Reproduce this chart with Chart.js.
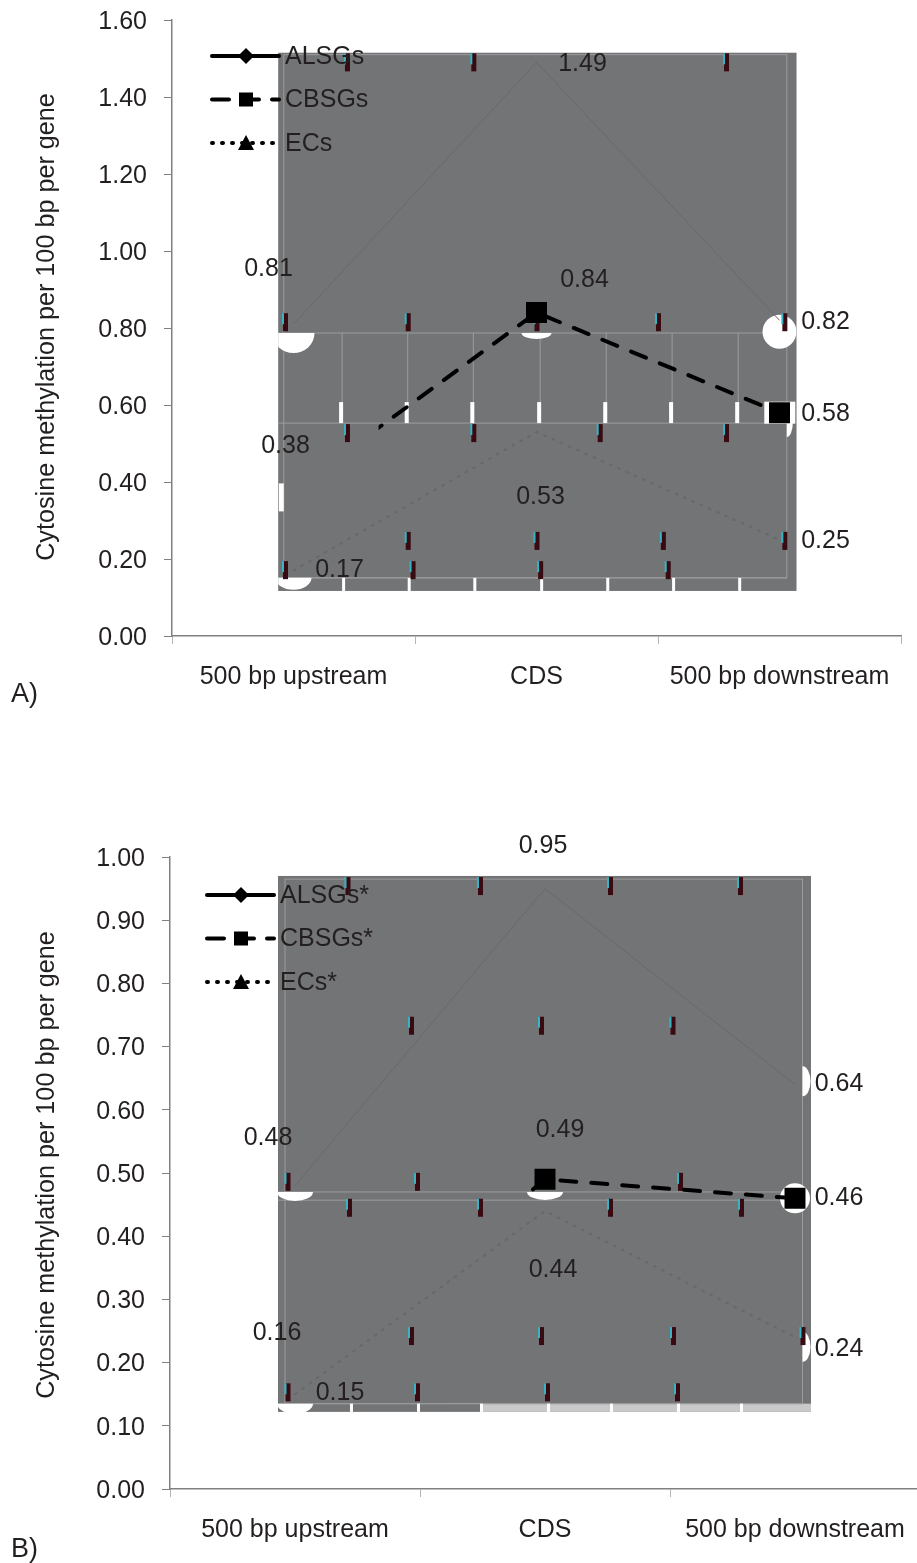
<!DOCTYPE html>
<html>
<head>
<meta charset="utf-8">
<title>Cytosine methylation</title>
<script src="https://cdn.jsdelivr.net/npm/chart.js@4/dist/chart.umd.min.js"></script>
<style>
    html, body { margin: 0; padding: 0; background: #fff; width: 917px; height: 1563px; overflow: hidden; }
    canvas { position: absolute; left: 0; }
    #chart-a { top: -20px; }
    #chart-b { top: 780px; }
    .panel { position: absolute; left: 11px; font: 27px "Liberation Sans", Arial, sans-serif; color: #231f20; line-height: 30px; }
</style>
</head>
<body>
<canvas id="chart-a" width="917" height="740"></canvas>
<canvas id="chart-b" width="936" height="783"></canvas>
<div class="panel" style="top:678px">A)</div>
<div class="panel" style="top:1533px">B)</div>
<script>
const categories = ['500 bp upstream', 'CDS', '500 bp downstream'];
const yTitle = 'Cytosine methylation per 100 bp per gene';

const alsgA = [0.81, 1.49, 0.82];
const cbsgA = [0.38, 0.84, 0.58];
const ecA = [0.17, 0.53, 0.25];

const alsgB = [0.48, 0.95, 0.64];
const cbsgB = [0.16, 0.49, 0.46];
const ecB = [0.15, 0.44, 0.24];

const namesA = ['ALSGs', 'CBSGs', 'ECs'];
const namesB = ['ALSGs*', 'CBSGs*', 'ECs*'];

const FONT = '"Liberation Sans", Arial, sans-serif';
const TEXT = '#231f20';
const AXIS = '#808080';
const PATCH = '#737476';
const THIN = '#9c9c9e';

// where each value label sits relative to its point, same order as the series
const labelOffsetsA = [
    [[-25, -55], [46, 2], [46, 2]],
    [[-8, -44], [48, -32], [46, 1]],
    [[46, 0], [4, 65], [46, 1]]
];
const labelOffsetsB = [
    [[-27, -48], [-2, -42], [44, 0]],
    [[-18, -55], [15, -49], [44, 0]],
    [[45, -1], [8, 59], [44, 12]]
];

// the grey damage over the plot, in category / value coordinates
// blobs: category, value, rx, ry, which part of the ellipse
const damageA = {
    box: [-0.063, 2.07, 1.515, 0.117],
    outline: [-0.04, 2.03, 1.51, 0.151],
    rules: [0.787, 0.553, 0.151],
    columns: [0.2, 0.47, 0.74, 1.015, 1.287, 1.558, 1.83],
    columnSpan: [0.787, 0.553],
    blobs: [
        [0, 0.787, 21, 20, 'down'],
        [1, 0.787, 15, 6, 'down'],
        [2, 0.79, 17, 17, 'full'],
        [2.03, 0.553, 6, 14, 'right'],
        [0, 0.151, 18, 12, 'down']
    ],
    bars: [[-0.04, 0.36, 5, 28], [2.065, 0.58, 31, 22]],
    specks: [
        [1.49, [0.22, 0.74, 1.78]],
        [0.815, [-0.035, 0.47, 1.0, 1.5, 2.02]],
        [0.527, [0.22, 0.74, 1.26, 1.78]],
        [0.247, [0.47, 1.0, 1.52, 2.02]],
        [0.171, [-0.035, 0.49, 1.015, 1.54]]
    ],
    feet: [0.2, 0.47, 0.74, 1.015, 1.287, 1.558, 1.83],
    feetSpan: [0.151, 0.117],
    noise: null
};
const damageB = {
    box: [-0.068, 2.064, 0.97, 0.122],
    outline: [-0.04, 2.03, 0.965, 0.135],
    rules: [0.47, 0.457, 0.135],
    columns: [],
    columnSpan: [0, 0],
    blobs: [
        [0, 0.47, 18, 9, 'down'],
        [1, 0.47, 18, 8, 'down'],
        [2, 0.46, 15, 15, 'full'],
        [2.03, 0.645, 8, 15, 'right'],
        [2.03, 0.225, 8, 15, 'right'],
        [0, 0.135, 18, 10, 'down']
    ],
    bars: [],
    specks: [
        [0.954, [0.21, 0.74, 1.26, 1.78]],
        [0.733, [0.464, 0.984, 1.51]],
        [0.486, [-0.03, 0.488, 1.54]],
        [0.445, [0.216, 0.74, 1.26, 1.784]],
        [0.242, [0.464, 0.984, 1.512, 2.03]],
        [0.153, [-0.03, 0.488, 1.008, 1.528]]
    ],
    feet: [0.22, 0.488, 0.74, 1.008, 1.26, 1.528, 1.78],
    feetSpan: [0.135, 0.122],
    noise: [0.74, 2.064, 0.135, 0.122]
};

const blobAngles = {
    down: [0, Math.PI],
    up: [Math.PI, Math.PI * 2],
    right: [-Math.PI / 2, Math.PI / 2],
    full: [0, Math.PI * 2]
};

function damagePlugin(damage) {
    return {
        id: 'damage',
        beforeDatasetsDraw(chart) {
            const ctx = chart.ctx;
            const x = chart.scales.x;
            const y = chart.scales.y;
            const px = v => x.getPixelForValue(v);
            const py = v => y.getPixelForValue(v);
            const b = damage.box;

            ctx.save();
            ctx.fillStyle = PATCH;
            ctx.fillRect(px(b[0]), py(b[2]), px(b[1]) - px(b[0]), py(b[3]) - py(b[2]));

            // clip everything else to the patch
            ctx.beginPath();
            ctx.rect(px(b[0]), py(b[2]), px(b[1]) - px(b[0]), py(b[3]) - py(b[2]));
            ctx.clip();

            if (damage.noise) {
                ctx.fillStyle = '#c9c9c9';
                const n = damage.noise;
                ctx.fillRect(px(n[0]), py(n[2]), px(n[1]) - px(n[0]), py(n[3]) - py(n[2]));
            }

            ctx.strokeStyle = THIN;
            ctx.lineWidth = 1;
            const o = damage.outline;
            ctx.strokeRect(px(o[0]), py(o[2]), px(o[1]) - px(o[0]), py(o[3]) - py(o[2]));
            damage.rules.forEach(r => {
                ctx.beginPath();
                ctx.moveTo(px(b[0]), py(r));
                ctx.lineTo(px(o[1]), py(r));
                ctx.stroke();
            });

            damage.columns.forEach(c => {
                ctx.strokeStyle = THIN;
                ctx.beginPath();
                ctx.moveTo(px(c), py(damage.columnSpan[0]));
                ctx.lineTo(px(c), py(damage.columnSpan[1]));
                ctx.stroke();
                ctx.fillStyle = '#fff';
                ctx.fillRect(px(c) - 3, py(damage.columnSpan[1]) - 21, 4, 21);
            });

            ctx.fillStyle = '#fff';
            damage.feet.forEach(c => {
                ctx.fillRect(px(c), py(damage.feetSpan[0]), 3, py(damage.feetSpan[1]) - py(damage.feetSpan[0]));
            });

            // white blobs left around the points
            damage.blobs.forEach(bl => {
                const angles = blobAngles[bl[4]];
                ctx.beginPath();
                ctx.ellipse(px(bl[0]), py(bl[1]), bl[2], bl[3], 0, angles[0], angles[1]);
                ctx.fill();
            });
            damage.bars.forEach(bar => {
                ctx.fillRect(px(bar[0]) - bar[2], py(bar[1]) - bar[3] / 2, bar[2], bar[3]);
            });

            damage.specks.forEach(row => {
                row[1].forEach(c => {
                    const sx = px(c);
                    const sy = py(row[0]);
                    ctx.fillStyle = '#3a0a12';
                    ctx.fillRect(sx - 2, sy - 9, 5, 18);
                    ctx.fillStyle = '#35b4c4';
                    ctx.fillRect(sx - 3, sy - 9, 2, 11);
                });
            });
            ctx.restore();
        },
        beforeDatasetDraw(chart, args) {
            // only the dashed series still shows through, from clipFrom onwards
            if (args.index !== 1) return;
            const x = chart.scales.x;
            const ctx = chart.ctx;
            ctx.save();
            ctx.beginPath();
            ctx.rect(x.getPixelForValue(chart.options.plugins.damage.clipFrom), 0, chart.width, chart.height);
            ctx.clip();
        },
        afterDatasetDraw(chart, args) {
            if (args.index !== 1) return;
            chart.ctx.restore();
        }
    };
}

function labelsPlugin(offsets) {
    return {
        id: 'valueLabels',
        afterDatasetsDraw(chart) {
            const ctx = chart.ctx;
            ctx.save();
            ctx.font = '25px ' + FONT;
            ctx.textAlign = 'center';
            ctx.textBaseline = 'middle';
            ctx.fillStyle = TEXT;
            chart.data.datasets.forEach((ds, i) => {
                const points = chart.getDatasetMeta(i).data;
                ds.data.forEach((v, j) => {
                    ctx.fillText(v.toFixed(2), points[j].x + offsets[i][j][0], points[j].y + offsets[i][j][1]);
                });
            });
            ctx.restore();
        }
    };
}

function legendPlugin(names, left, top, step) {
    const dashes = [[], [17, 13], [1, 9]];
    return {
        id: 'lineLegend',
        afterDatasetsDraw(chart) {
            const ctx = chart.ctx;
            ctx.save();
            names.forEach((name, i) => {
                const y = top + step * i;
                ctx.strokeStyle = '#000';
                ctx.fillStyle = '#000';
                ctx.lineWidth = 4;
                ctx.lineCap = 'round';
                ctx.setLineDash(dashes[i]);
                ctx.beginPath();
                ctx.moveTo(left, y);
                ctx.lineTo(left + 67, y);
                ctx.stroke();
                ctx.setLineDash([]);

                const mx = left + 34;
                ctx.beginPath();
                if (i === 0) {
                    ctx.moveTo(mx, y - 8);
                    ctx.lineTo(mx + 8, y);
                    ctx.lineTo(mx, y + 8);
                    ctx.lineTo(mx - 8, y);
                    ctx.closePath();
                } else if (i === 1) {
                    ctx.rect(mx - 7, y - 7, 14, 14);
                } else {
                    ctx.moveTo(mx, y - 8);
                    ctx.lineTo(mx + 8, y + 7);
                    ctx.lineTo(mx - 8, y + 7);
                    ctx.closePath();
                }
                ctx.fill();

                ctx.font = '25px ' + FONT;
                ctx.textAlign = 'left';
                ctx.textBaseline = 'middle';
                ctx.fillStyle = TEXT;
                ctx.fillText(name, left + 73, y + 1);
            });
            ctx.restore();
        }
    };
}

// the axis title sits off centre in B, so it is drawn here and not through the scale
function titlePlugin(centerY) {
    return {
        id: 'sideTitle',
        afterDraw(chart) {
            const ctx = chart.ctx;
            ctx.save();
            ctx.translate(47, centerY);
            ctx.rotate(-Math.PI / 2);
            ctx.font = '25.2px ' + FONT;
            ctx.textAlign = 'center';
            ctx.textBaseline = 'middle';
            ctx.fillStyle = TEXT;
            ctx.fillText(yTitle, 0, 0);
            ctx.restore();
        }
    };
}

function makeChart(id, opts) {
    return new Chart(document.getElementById(id), {
        type: 'line',
        data: {
            labels: categories,
            datasets: [
                {
                    label: opts.names[0],
                    data: opts.series[0],
                    borderColor: '#68696b',
                    borderWidth: 1,
                    pointRadius: 0
                },
                {
                    label: opts.names[1],
                    data: opts.series[1],
                    borderColor: '#000',
                    borderWidth: 4,
                    borderDash: [16, 15],
                    borderCapStyle: 'round',
                    pointStyle: 'rect',
                    pointRadius: 12,
                    pointBackgroundColor: '#000',
                    pointBorderColor: '#000'
                },
                {
                    label: opts.names[2],
                    data: opts.series[2],
                    borderColor: '#67686a',
                    borderWidth: 2,
                    borderDash: [2, 7],
                    borderCapStyle: 'round',
                    pointRadius: 0
                }
            ]
        },
        options: {
            responsive: false,
            animation: false,
            layout: { padding: opts.padding },
            plugins: {
                legend: { display: false },
                tooltip: { enabled: false },
                damage: { clipFrom: opts.clipFrom }
            },
            scales: {
                x: {
                    type: 'category',
                    offset: true,
                    border: { color: AXIS, width: 1.5 },
                    grid: { offset: true, drawOnChartArea: false, drawTicks: true, tickLength: 8, color: '#b5b5b5' },
                    ticks: {
                        color: TEXT,
                        font: { family: FONT, size: 25 },
                        padding: 18,
                        autoSkip: false,
                        maxRotation: 0
                    },
                    afterFit: s => { s.height = opts.xHeight; }
                },
                y: {
                    min: 0,
                    max: opts.yMax,
                    border: { color: AXIS, width: 1.5 },
                    grid: { drawOnChartArea: false, drawTicks: true, tickLength: 8, color: AXIS },
                    ticks: {
                        stepSize: opts.yStep,
                        color: TEXT,
                        font: { family: FONT, size: 25 },
                        padding: 17,
                        labelOffset: 2,
                        callback: v => v.toFixed(2)
                    },
                    afterFit: s => { s.width = opts.yWidth; }
                }
            }
        },
        plugins: [
            damagePlugin(opts.damage),
            labelsPlugin(opts.offsets),
            legendPlugin(opts.names, opts.legend[0], opts.legend[1], opts.legend[2]),
            titlePlugin(opts.titleY)
        ]
    });
}

makeChart('chart-a', {
    names: namesA,
    series: [alsgA, cbsgA, ecA],
    offsets: labelOffsetsA,
    damage: damageA,
    clipFrom: 0.35,
    yMax: 1.6,
    yStep: 0.2,
    yWidth: 172,
    xHeight: 84,
    padding: { top: 40, right: 16, left: 0, bottom: 0 },
    legend: [212, 76, 43.5],
    titleY: 347
});

makeChart('chart-b', {
    names: namesB,
    series: [alsgB, cbsgB, ecB],
    offsets: labelOffsetsB,
    damage: damageB,
    clipFrom: 0.94,
    yMax: 1,
    yStep: 0.1,
    yWidth: 170,
    xHeight: 74,
    padding: { top: 77, right: 16, left: 0, bottom: 0 },
    legend: [207, 115, 43.5],
    titleY: 385
});
</script>
</body>
</html>
